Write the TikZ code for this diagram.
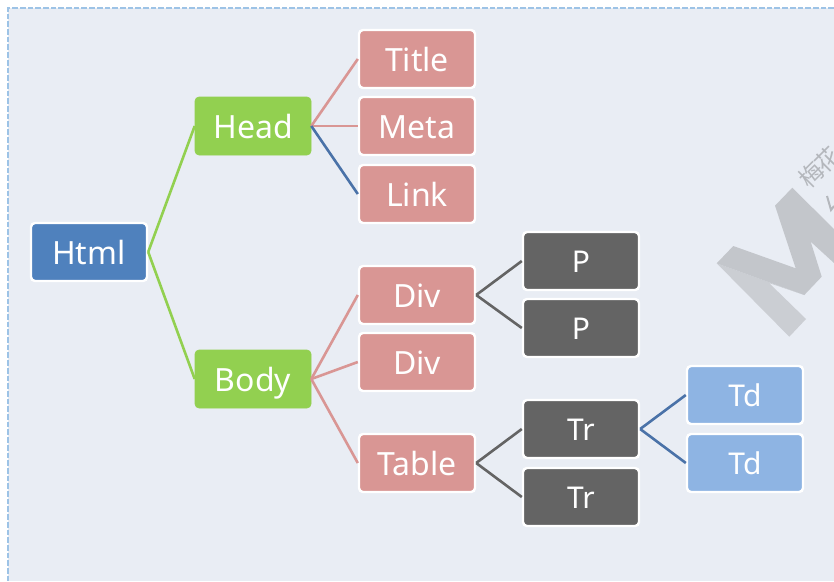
\documentclass[tikz,border=0pt]{standalone}
\usepackage{fontspec}
\setmainfont{Noto Sans}
\newfontfamily\cjk{Noto Sans CJK SC}
\definecolor{bgc}{HTML}{E9EDF4}
\definecolor{framec}{HTML}{9DC3E6}
\definecolor{bluec}{HTML}{4F81BD}
\definecolor{greenc}{HTML}{92D050}
\definecolor{pinkc}{HTML}{D99694}
\definecolor{greyc}{HTML}{646464}
\definecolor{lightc}{HTML}{8EB4E3}
\definecolor{linkc}{HTML}{4A72A8}
\definecolor{wmc}{HTML}{C3C6CB}
\definecolor{wmd}{HTML}{CBCED3}
\definecolor{wmt}{HTML}{B4B7BC}
\tikzset{
  x=1pt,y=-1pt,
  box/.style={draw=white,line width=2.4pt,rounded corners=4pt,minimum width=116pt,minimum height=58pt,inner sep=0pt,text=white,text height=24pt,text depth=0pt,font=\fontsize{32}{36}\selectfont},
  boxs/.style={box,text height=22pt,font=\fontsize{30}{36}\selectfont},
  root/.style={box,fill=bluec},
  lvla/.style={box,fill=greenc,draw=greenc,line width=0.6pt},
  lvlb/.style={box,fill=pinkc},
  lvlc/.style={boxs,fill=greyc},
  lvld/.style={boxs,fill=lightc},
  conn/.style={line width=2.6pt},
}
\begin{document}
\begin{tikzpicture}
\useasboundingbox (0,0) rectangle (834,581);
\fill[white] (0,0) rectangle (834,581);
\fill[bgc] (8,8) rectangle (834,581);
\draw[framec,line width=2pt,dash pattern=on 5.7pt off 2pt] (834,8) -- (8,8) -- (8,581);
\begin{scope}
\clip (0,0) rectangle (834,581);
\fill[wmd] (716.7,263.3) -- (804.3,295) -- (769,283) -- (806,319) -- (789.3,336.7) -- cycle;
\fill[wmc] (716.7,263.3) -- (733.3,246) -- (795.7,268.3) -- (775,205.7) -- (792.3,187.7) -- (850,245) -- (850,280) -- (834,263) -- (810.7,241.7) -- (821.7,276.7) -- (804.3,295) -- cycle;
\node[rotate=45,text=wmt,font=\cjk\fontsize{24}{24}\selectfont,inner sep=0pt] (wma) at (812,175) {梅};
\node[rotate=45,text=wmt,font=\cjk\fontsize{24}{24}\selectfont,inner sep=0pt] (wmb) at (828,160) {花};
\draw[wmt,line width=2pt] (827,196) -- (831,210) -- (834,206);
\end{scope}
\node[root] (html) at (89,252) {Html};
\node[lvla] (head) at (253,126) {Head};
\node[lvla] (body) at (253,379) {Body};
\node[lvlb] (title) at (417,59) {Title};
\node[lvlb] (meta) at (417,126) {Meta};
\node[lvlb] (link) at (417,194) {Link};
\node[lvlb] (diva) at (417,295) {Div};
\node[lvlb] (divb) at (417,362) {Div};
\node[lvlb] (table) at (417,463) {Table};
\node[lvlc] (pa) at (581,261) {P};
\node[lvlc] (pb) at (581,328) {P};
\node[lvlc] (tra) at (581,429) {Tr};
\node[lvlc] (trb) at (581,497) {Tr};
\node[lvld] (tda) at (745,395) {Td};
\node[lvld] (tdb) at (745,463) {Td};
\draw[conn,greenc] (html.east) -- (head.west);
\draw[conn,greenc] (html.east) -- (body.west);
\draw[conn,pinkc] (head.east) -- (title.west);
\draw[conn,pinkc] (head.east) -- (meta.west);
\draw[conn,linkc] (head.east) -- (link.west);
\draw[conn,pinkc] (body.east) -- (diva.west);
\draw[conn,pinkc] (body.east) -- (divb.west);
\draw[conn,pinkc] (body.east) -- (table.west);
\draw[conn,greyc] (diva.east) -- (pa.west);
\draw[conn,greyc] (diva.east) -- (pb.west);
\draw[conn,greyc] (table.east) -- (tra.west);
\draw[conn,greyc] (table.east) -- (trb.west);
\draw[conn,linkc] (tra.east) -- (tda.west);
\draw[conn,linkc] (tra.east) -- (tdb.west);
\end{tikzpicture}
\end{document}
